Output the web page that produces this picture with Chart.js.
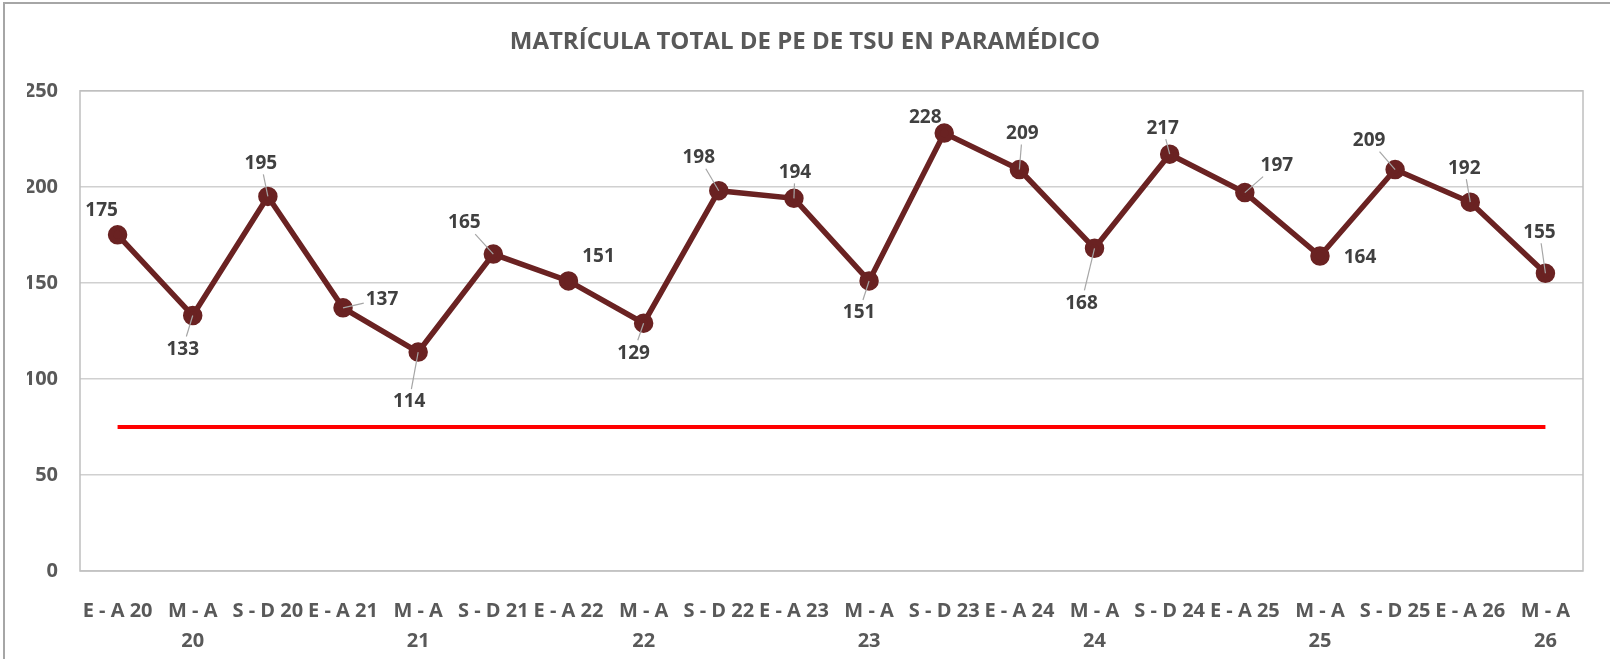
<!DOCTYPE html>
<html>
<head>
<meta charset="utf-8">
<script src="https://cdn.jsdelivr.net/npm/chart.js"></script>
<style>
  body { margin: 0; background: #fff; }
  #wrap { width: 1610px; height: 659px; }
</style>
</head>
<body>
<div id="wrap"><canvas id="myChart" width="1610" height="659"></canvas></div>
<script>
// periodos (etiquetas del eje x)
const periodos = [
  'E - A 20', ['M - A', '20'], 'S - D 20',
  'E - A 21', ['M - A', '21'], 'S - D 21',
  'E - A 22', ['M - A', '22'], 'S - D 22',
  'E - A 23', ['M - A', '23'], 'S - D 23',
  'E - A 24', ['M - A', '24'], 'S - D 24',
  'E - A 25', ['M - A', '25'], 'S - D 25',
  'E - A 26', ['M - A', '26']
]
const matricula = [175, 133, 195, 137, 114, 165, 151, 129, 198, 194, 151, 228, 209, 168, 217, 197, 164, 209, 192, 155]
const meta = 75
const metaLinea = periodos.map(() => meta)
const yTicks = [0, 50, 100, 150, 200, 250]

// donde va cada etiqueta de dato respecto a su punto (px) y si lleva linea guia
const labelOffsets = [
  [-16, -25], [-10, 33], [-7, -34], [39, -9], [-9, 49],
  [-29, -32], [30, -25], [-10, 29], [-20, -34], [1, -27],
  [-10, 31], [-19, -16], [3, -37], [-13, 54], [-7, -27],
  [32, -28], [40, 1], [-26, -30], [-6, -35], [-6, -42]
]
const showLeader = [false, true, true, true, true, true, false, true, true, true,
  true, false, true, true, true, true, false, true, true, true]

const fontFam = '"Open Sans", "Noto Sans", sans-serif'

const frame = {
  id: 'frame',
  beforeDraw(chart) {
    const c = chart.ctx
    c.save()
    c.fillStyle = '#fff'
    c.fillRect(0, 0, chart.width, chart.height)
    c.strokeStyle = '#a6a6a6'
    c.lineWidth = 2
    c.beginPath()
    c.moveTo(4, chart.height)
    c.lineTo(4, 3)
    c.lineTo(chart.width, 3)
    c.stroke()
    c.restore()
  },
  beforeDatasetsDraw(chart) {
    const a = chart.chartArea
    const c = chart.ctx
    c.save()
    c.strokeStyle = '#bfbfbf'
    c.lineWidth = 1.5
    c.strokeRect(a.left, a.top, a.right - a.left, a.bottom - a.top)
    c.restore()
  }
}

const dataLabels = {
  id: 'dataLabels',
  afterDatasetsDraw(chart) {
    const c = chart.ctx
    const pts = chart.getDatasetMeta(0).data
    c.save()
    c.font = 'bold 19px ' + fontFam
    c.textAlign = 'center'
    c.textBaseline = 'middle'
    pts.forEach((p, i) => {
      const [dx, dy] = labelOffsets[i]
      const lx = p.x + dx, ly = p.y + dy
      const txt = String(matricula[i])
      if (showLeader[i]) {
        const hw = c.measureText(txt).width / 2 + 2, hh = 12
        const tx = dx !== 0 ? hw / Math.abs(dx) : Infinity
        const ty = dy !== 0 ? hh / Math.abs(dy) : Infinity
        const t = Math.min(tx, ty, 1)
        const sx = lx - dx * t, sy = ly - dy * t
        c.strokeStyle = '#a6a6a6'
        c.lineWidth = 1.2
        c.beginPath()
        c.moveTo(sx, sy)
        c.lineTo(p.x, p.y)
        c.stroke()
      }
      c.fillStyle = '#404040'
      c.fillText(txt, lx, ly + 1)
    })
    c.restore()
  }
}

const ctx = document.getElementById('myChart')

new Chart(ctx, {
  type: 'line',
  data: {
    labels: periodos,
    datasets: [{
      label: 'Matrícula',
      data: matricula,
      borderColor: '#6a2222',
      backgroundColor: '#6a2222',
      borderWidth: 5.5,
      pointRadius: 7,
      pointHoverRadius: 7,
      tension: 0,
      order: 1
    }, {
      label: 'Meta',
      data: metaLinea,
      borderColor: '#ff0000',
      borderWidth: 4,
      pointRadius: 0,
      tension: 0,
      order: 2
    }]
  },
  options: {
    responsive: false,
    animation: false,
    layout: { padding: { left: 27, right: 27, top: 0, bottom: 0 } },
    plugins: {
      legend: { display: false },
      tooltip: { enabled: false },
      title: {
        display: true,
        text: 'MATRÍCULA TOTAL DE PE DE TSU EN PARAMÉDICO',
        color: '#595959',
        font: { family: fontFam, size: 24, weight: 'bold', lineHeight: 1.2 },
        padding: { top: 28, bottom: 34 }
      }
    },
    scales: {
      x: {
        offset: true,
        grid: { display: false },
        border: { display: false },
        ticks: {
          autoSkip: false,
          maxRotation: 0,
          padding: 17,
          color: '#595959',
          font: { family: fontFam, size: 20, weight: 'bold', lineHeight: 1.5 }
        },
        afterFit(scale) { scale.height = 88 }
      },
      y: {
        min: 0,
        max: 250,
        afterBuildTicks(scale) { scale.ticks = yTicks.map(v => ({ value: v })) },
        grid: { color: '#d0d0d0', lineWidth: 1.5, drawTicks: false },
        border: { display: false },
        ticks: {
          padding: 22,
          color: '#595959',
          font: { family: fontFam, size: 20, weight: 'bold' }
        },
        afterFit(scale) { scale.width = 53 }
      }
    }
  },
  plugins: [frame, dataLabels]
})
</script>
</body>
</html>
